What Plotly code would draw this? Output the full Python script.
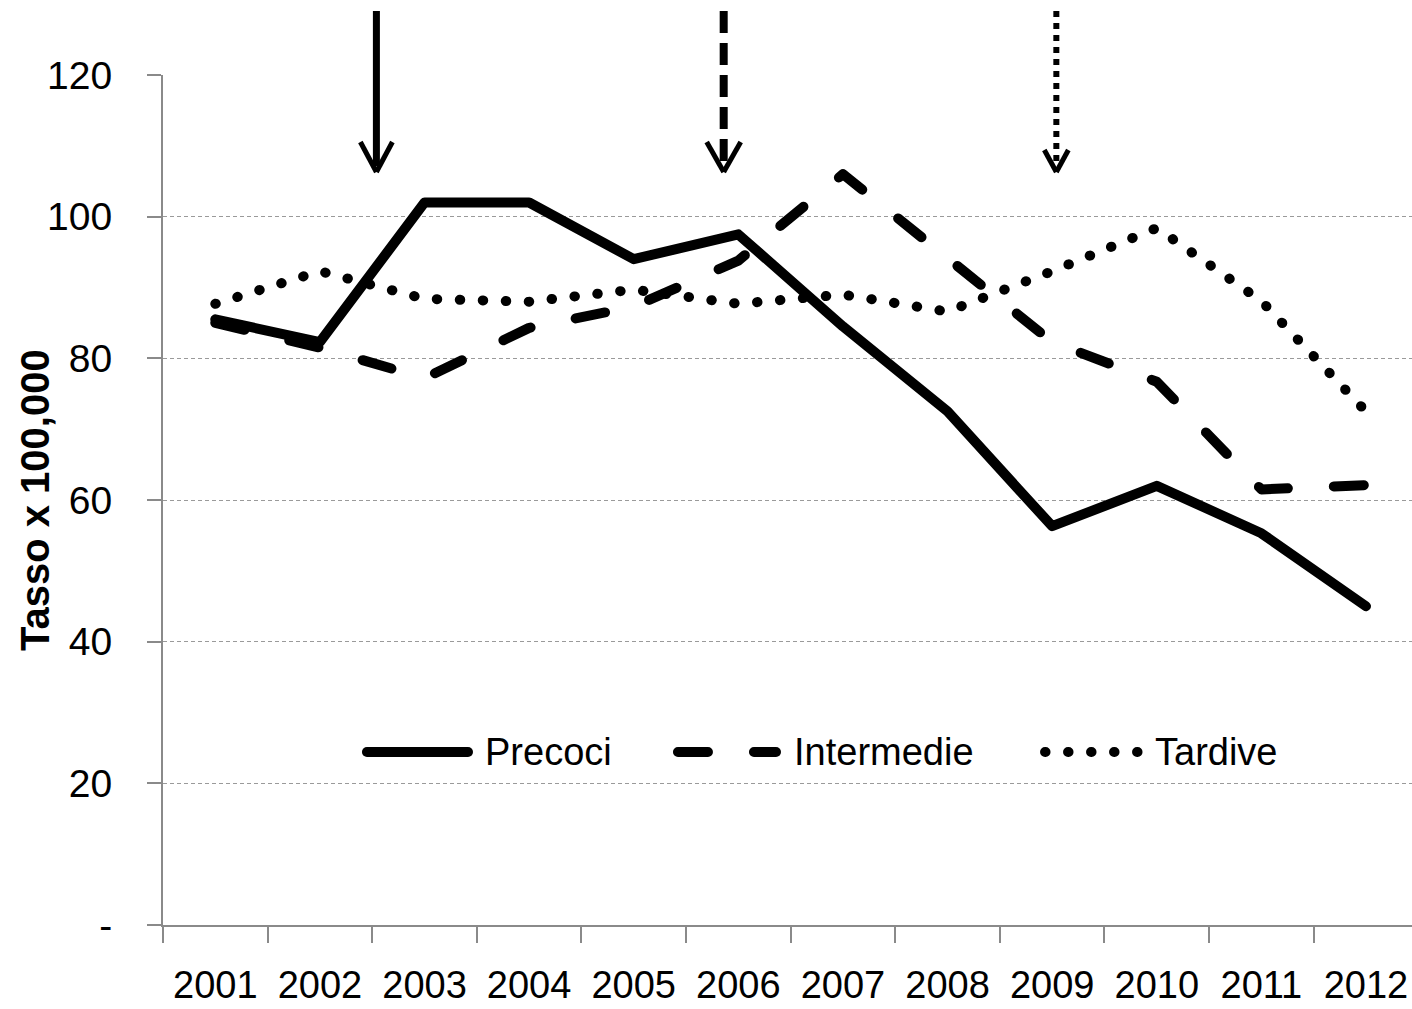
import plotly.graph_objects as go

# --- data -------------------------------------------------------------
years = ["2001", "2002", "2003", "2004", "2005", "2006",
         "2007", "2008", "2009", "2010", "2011", "2012"]
precoci = [85.5, 82.3, 102, 102, 94, 97.5, 84.5, 72.5, 56.3, 62, 55.3, 45]
intermedie = [85, 81.5, 77.2, 84.3, 87.3, 93.8, 106, 94, 82.3, 76.7, 61.5, 62.1]
tardive = [87.7, 92.3, 88.4, 88.0, 89.7, 87.7, 89, 86.6, 92.3, 98.4, 88.1, 72.5]

y_ticks = [0, 20, 40, 60, 80, 100, 120]
y_ticktext = ["-", "20", "40", "60", "80", "100", "120"]
y_title = "Tasso x 100,000"

series_names = ["Precoci", "Intermedie", "Tardive"]
series_values = [precoci, intermedie, tardive]
series_dash = ["solid", "30px,46px", "0.5px,22.5px"]

# arrow markers above the plot (category position, dash style, shaft width, head size)
arrow_x = [1.54, 4.86, 8.04]
arrow_dash = ["solid", "22px,10px", "6px,6px"]
arrow_width = [7, 8, 6]
arrow_head = [(16, 30), (17, 30), (12, 22)]

TEXT_FONT = "Liberation Sans, Arial, sans-serif"
AXIS_GREY = "#8a8a8a"

W, H = 1412, 1009
M_L, M_R, M_T, M_B = 163, 0, 75, 84
PLOT_W = W - M_L - M_R
PLOT_H = H - M_T - M_B
X_RANGE = [-0.5, 11.44]
CAT_PX = PLOT_W / (X_RANGE[1] - X_RANGE[0])

fig = go.Figure()

for name, vals, dash in zip(series_names, series_values, series_dash):
    fig.add_trace(go.Scatter(
        x=years, y=vals, mode="lines", name=name,
        line=dict(color="black", width=10, dash=dash),
        showlegend=False, hoverinfo="skip",
    ))

# --- legend drawn inside the plot area --------------------------------
legend_y = 0.2035
legend_sample_x = [(0.1633, 0.2442), (0.4123, 0.4908), (0.7062, 0.7854)]
legend_text_x = [0.2562, 0.5036, 0.7926]
annotations = []
for name, dash, (x0, x1), tx in zip(series_names, series_dash, legend_sample_x, legend_text_x):
    fig.add_trace(go.Scatter(
        x=[x0, x1], y=[legend_y, legend_y], xaxis="x2", yaxis="y2",
        mode="lines", line=dict(color="black", width=10, dash=dash),
        showlegend=False, hoverinfo="skip",
    ))
    annotations.append(dict(
        x=tx, y=legend_y, xref="paper", yref="paper", text=name,
        showarrow=False, xanchor="left", yanchor="middle",
        font=dict(family=TEXT_FONT, size=38, color="black"),
    ))

# rotated y-axis title, left of the tick labels
annotations.append(dict(
    x=0, y=0.5, xref="paper", yref="paper", text="<b>" + y_title + "</b>",
    textangle=-90, showarrow=False, xanchor="center", yanchor="middle",
    xshift=-128, font=dict(family=TEXT_FONT, size=40, color="black"),
))

# --- arrows above the plot --------------------------------------------
def ypaper(px_from_top):
    return 1 - (px_from_top - M_T) / PLOT_H

shapes = []
top_px, tip_px = 11, 172
for ax_x, dash, lw, (hw, hh) in zip(arrow_x, arrow_dash, arrow_width, arrow_head):
    shapes.append(dict(
        type="line", xref="x", yref="paper",
        x0=ax_x, x1=ax_x, y0=ypaper(top_px), y1=ypaper(tip_px - 6),
        line=dict(color="black", width=lw, dash=dash),
    ))
    for side in (-1, 1):
        shapes.append(dict(
            type="line", xref="x", yref="paper",
            x0=ax_x + side * hw / CAT_PX, y0=ypaper(tip_px - hh),
            x1=ax_x, y1=ypaper(tip_px),
            line=dict(color="black", width=5),
        ))

fig.update_layout(
    width=W, height=H,
    margin=dict(l=M_L, r=M_R, t=M_T, b=M_B, pad=0, autoexpand=False),
    paper_bgcolor="white", plot_bgcolor="white",
    showlegend=False,
    shapes=shapes,
    annotations=annotations,
    xaxis=dict(
        type="category", categoryorder="array", categoryarray=years,
        range=X_RANGE, tickson="boundaries", automargin=False, tickangle=0,
        ticks="outside", ticklen=16, tickwidth=2, tickcolor=AXIS_GREY,
        showline=True, linecolor=AXIS_GREY, linewidth=2,
        showgrid=False, zeroline=False,
        tickfont=dict(family=TEXT_FONT, size=38, color="black"),
        ticklabelstandoff=25,
    ),
    yaxis=dict(
        range=[0, 120], tickvals=y_ticks, ticktext=y_ticktext, automargin=False,
        ticks="outside", ticklen=14, tickwidth=2, tickcolor=AXIS_GREY,
        showline=True, linecolor=AXIS_GREY, linewidth=2,
        showgrid=True, gridcolor="#9a9a9a", gridwidth=1, griddash="4px,3px",
        zeroline=False,
        tickfont=dict(family=TEXT_FONT, size=39, color="black"),
        ticklabelstandoff=27,
    ),
    xaxis2=dict(overlaying="x", range=[0, 1], visible=False, anchor="y2"),
    yaxis2=dict(overlaying="y", range=[0, 1], visible=False, anchor="x2"),
)

# round caps/joins for the series strokes
round_caps = """
document.querySelectorAll('.scatterlayer .js-line').forEach(function(p){
    p.style.strokeLinecap = 'round';
    p.style.strokeLinejoin = 'round';
});
"""

fig.write_html("out.html", post_script=round_caps)
